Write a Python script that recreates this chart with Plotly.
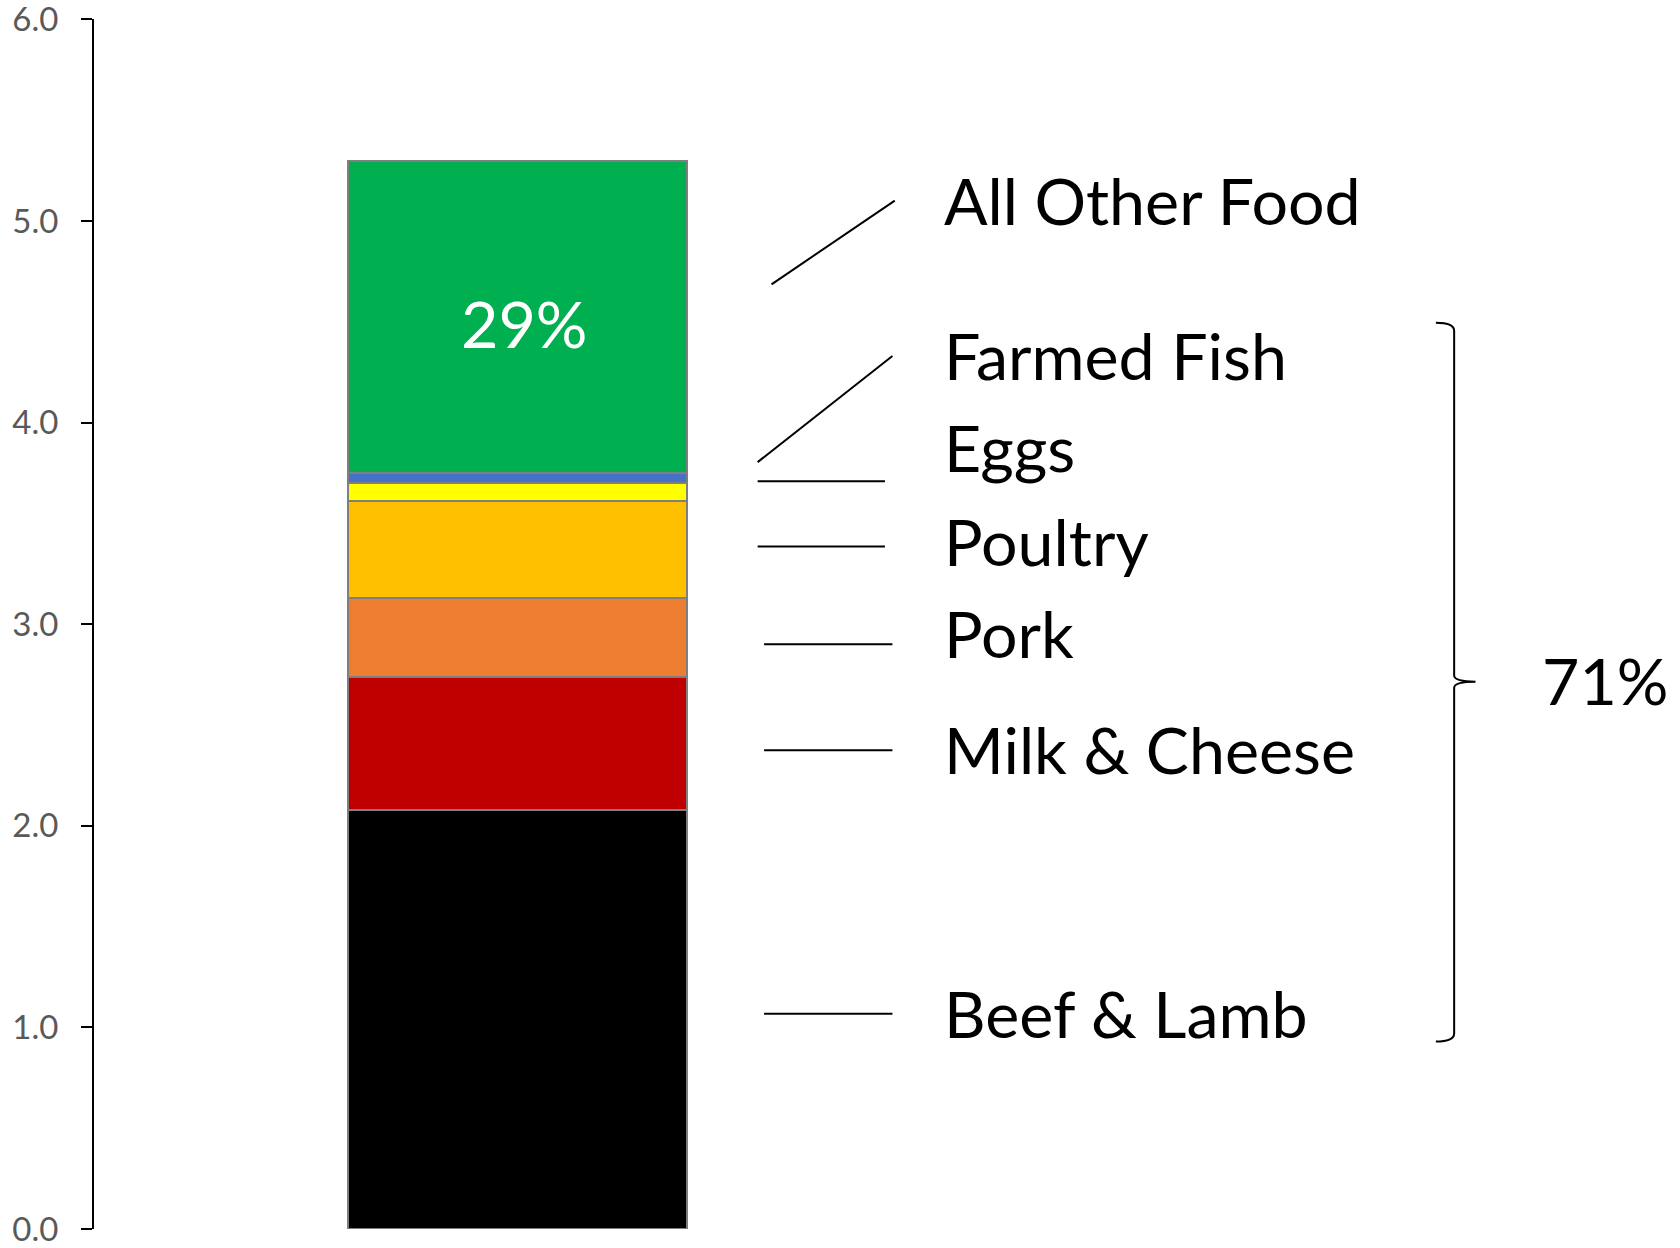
import plotly.graph_objects as go

categories = ["Beef & Lamb", "Milk & Cheese", "Pork", "Poultry", "Eggs", "Farmed Fish", "All Other Food"]
values = [2.08, 0.66, 0.39, 0.48, 0.09, 0.05, 1.55]
colors = ["#000000", "#C00000", "#ED7D31", "#FFC000", "#FFFF00", "#4472C4", "#00B050"]
tick_vals = [0, 1, 2, 3, 4, 5, 6]
tick_text = ["0.0", "1.0", "2.0", "3.0", "4.0", "5.0", "6.0"]
share_other = "29%"
share_animal = "71%"

# label placement (y in data units) and leader line endpoints
label_y = [1.073, 2.381, 2.954, 3.411, 3.879, 4.336, 5.106]
leader = [  # (x0, y0, x1, y1)
    (0.728, 1.068, 1.107, 1.068),
    (0.728, 2.375, 1.107, 2.375),
    (0.728, 2.901, 1.107, 2.901),
    (0.709, 3.385, 1.085, 3.385),
    (0.709, 3.709, 1.085, 3.709),
    (0.709, 3.804, 1.107, 4.330),
    (0.750, 4.686, 1.114, 5.101),
]

FONT = "Lato"
fig = go.Figure()
for cat, v, c in zip(categories, values, colors):
    fig.add_trace(go.Bar(
        x=[0], y=[v], name=cat, width=1,
        marker=dict(color=c, line=dict(color="#7F7F7F", width=2)),
        hoverinfo="name+y",
    ))

annotations = []
for cat, ly in zip(categories, label_y):
    annotations.append(dict(x=1.252, y=ly, xref="x", yref="y", text=cat, showarrow=False,
                            xanchor="left", yanchor="middle",
                            font=dict(family=FONT, size=64.5, color="#000000")))
annotations.append(dict(x=0.021, y=4.495, xref="x", yref="y", text=share_other, showarrow=False,
                        xanchor="center", yanchor="middle",
                        font=dict(family=FONT, size=64.5, color="#FFFFFF")))
annotations.append(dict(x=3.02, y=2.725, xref="x", yref="y", text=share_animal, showarrow=False,
                        xanchor="left", yanchor="middle",
                        font=dict(family=FONT, size=64.5, color="#000000")))

shapes = []
for x0, y0, x1, y1 in leader:
    shapes.append(dict(type="line", xref="x", yref="y", x0=x0, y0=y0, x1=x1, y1=y1,
                       line=dict(color="#000000", width=2)))

# curly brace
bx, bl, br = 2.766, 2.712, 2.829
yt, ym, yb = 4.485, 2.715, 0.940
path = (f"M {bl},{yt+0.01} Q {bx},{yt+0.01} {bx},{yt-0.03} "
        f"L {bx},{ym+0.03} Q {bx},{ym} {br},{ym} "
        f"Q {bx},{ym} {bx},{ym-0.03} "
        f"L {bx},{yb+0.03} Q {bx},{yb-0.01} {bl},{yb-0.01}")
shapes.append(dict(type="path", xref="x", yref="y", path=path,
                   line=dict(color="#000000", width=2)))

fig.update_layout(
    barmode="stack",
    width=1680, height=1248,
    margin=dict(l=94, r=0, t=19, b=19, autoexpand=False),
    paper_bgcolor="#FFFFFF", plot_bgcolor="#FFFFFF",
    showlegend=False,
    annotations=annotations,
    shapes=shapes,
    xaxis=dict(range=[-1.251, 3.433], visible=False, fixedrange=True, automargin=False),
    yaxis=dict(range=[0, 6.002], tickvals=tick_vals, ticktext=tick_text, automargin=False,
               showgrid=False, zeroline=False, showline=True, linecolor="#000000", linewidth=2,
               ticks="outside", ticklen=11, tickwidth=2, tickcolor="#000000",
               ticklabelstandoff=16, ticklabeloverflow="allow",
               tickfont=dict(family=FONT, size=33, color="#595959")),
)

fig.write_html("out.html",
               config={"displayModeBar": False},
               post_script="document.body.style.margin='0px';document.body.style.overflow='hidden';")
